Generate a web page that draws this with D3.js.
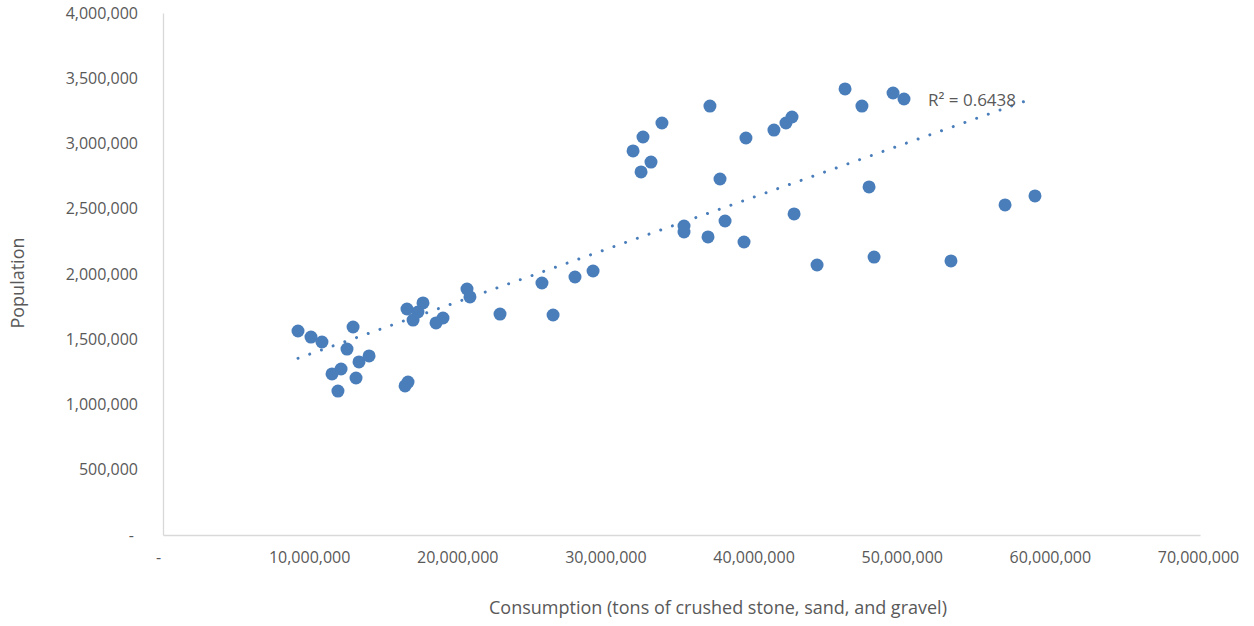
<!DOCTYPE html>
<html>
<head>
<meta charset="utf-8">
<script src="https://cdn.jsdelivr.net/npm/d3@7"></script>
<style>
  html, body { margin: 0; padding: 0; background: #fff; }
  svg { display: block; font-family: "Open Sans", "Liberation Sans", sans-serif; }
</style>
</head>
<body>
<svg id="chart" width="1254" height="626"></svg>
<script>
// Consumption (tons) per point
const consumption = [
  9113000, 9990000, 10730000, 12830000, 12420000, 13910000, 13230000, 11410000, 12020000, 13030000,
  11810000, 16470000, 17550000, 17210000, 16880000, 18430000, 18900000, 16340000, 16540000, 20520000,
  20720000, 22750000, 25580000, 26330000, 27810000, 29030000, 31730000, 32400000, 32270000, 32940000,
  33680000, 36920000, 37600000, 35170000, 35170000, 36790000, 37940000, 39220000, 39350000, 41240000,
  42050000, 42460000, 42600000, 44150000, 46040000, 47180000, 47660000, 48000000, 49280000, 50020000,
  53190000, 56840000, 58860000
];
// Population per point
const population = [
  1563000, 1517000, 1479000, 1594000, 1425000, 1372000, 1326000, 1234000, 1272000, 1203000,
  1103000, 1732000, 1778000, 1709000, 1647000, 1625000, 1663000, 1142000, 1172000, 1885000,
  1824000, 1693000, 1931000, 1686000, 1977000, 2023000, 2943000, 3050000, 2782000, 2858000,
  3157000, 3287000, 2728000, 2368000, 2322000, 2284000, 2406000, 2245000, 3042000, 3103000,
  3157000, 3203000, 2460000, 2069000, 3418000, 3287000, 2667000, 2130000, 3387000, 3341000,
  2100000, 2529000, 2598000
];
const xTicks = [0, 10000000, 20000000, 30000000, 40000000, 50000000, 60000000, 70000000];
const yTicks = [0, 500000, 1000000, 1500000, 2000000, 2500000, 3000000, 3500000, 4000000];
const xTitle = "Consumption (tons of crushed stone, sand, and gravel)";
const yTitle = "Population";
const r2Label = "R\u00B2 = 0.6438";

const svg = d3.select("#chart");
const x = d3.scaleLinear().domain([0, 70000000]).range([163, 1200]);
const y = d3.scaleLinear().domain([0, 4000000]).range([535, 13]);
const fmt = d => d === 0 ? "-" : d3.format(",")(d);
const textColor = "#595959";
const axisColor = "#d9d9d9";
const dotColor = "#4a7ebb";

// Y axis
const yAxis = svg.append("g").attr("transform", `translate(${x(0)},0)`)
  .call(d3.axisLeft(y).tickValues(yTicks).tickFormat(fmt).tickSize(0).tickPadding(25));
yAxis.select(".domain").attr("stroke", axisColor).attr("stroke-width", 1.3);
yAxis.selectAll("text").attr("fill", textColor).style("font-size", "16px")
  .style("font-family", "'Open Sans', sans-serif")
  .attr("dx", d => d === 0 ? -4 : 0);

// X axis
const xAxis = svg.append("g").attr("transform", `translate(0,${y(0)})`)
  .call(d3.axisBottom(x).tickValues(xTicks).tickFormat(fmt).tickSize(0).tickPadding(17));
xAxis.select(".domain").attr("stroke", axisColor).attr("stroke-width", 1.3);
xAxis.selectAll("text").attr("fill", textColor).style("font-size", "16px")
  .style("font-family", "'Open Sans', sans-serif")
  .attr("dx", d => d === 0 ? -5 : -2);

// Trendline (least squares)
const n = consumption.length;
const mx = d3.mean(consumption), my = d3.mean(population);
let sxy = 0, sxx = 0;
for (let i = 0; i < n; i++) {
  sxy += (consumption[i] - mx) * (population[i] - my);
  sxx += (consumption[i] - mx) ** 2;
}
const slope = sxy / sxx, intercept = my - slope * mx;
const x0 = d3.min(consumption), x1 = d3.max(consumption);
svg.append("line")
  .attr("x1", x(x0)).attr("y1", y(intercept + slope * x0))
  .attr("x2", x(x1)).attr("y2", y(intercept + slope * x1))
  .attr("stroke", dotColor).attr("stroke-width", 3)
  .attr("stroke-linecap", "round").attr("stroke-dasharray", "0.01 12.4");

// Points
svg.append("g").selectAll("circle")
  .data(consumption.map((c, i) => [c, population[i]]))
  .join("circle")
  .attr("cx", d => x(d[0])).attr("cy", d => y(d[1]))
  .attr("r", 6.5).attr("fill", dotColor);

// R² label
svg.append("text").attr("x", 928).attr("y", 106)
  .attr("fill", textColor).style("font-size", "17px").text(r2Label);

// Titles
svg.append("text").attr("x", 718).attr("y", 614).attr("text-anchor", "middle")
  .attr("fill", textColor).style("font-size", "18px").text(xTitle);
svg.append("text").attr("transform", "translate(24,283) rotate(-90)").attr("text-anchor", "middle")
  .attr("fill", textColor).style("font-size", "18px").text(yTitle);
</script>
</body>
</html>
